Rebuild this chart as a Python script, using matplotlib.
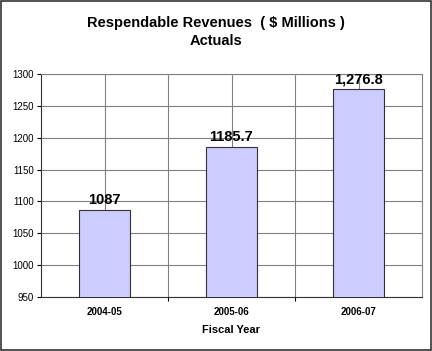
import numpy as np
import matplotlib.pyplot as plt
from matplotlib.patches import Rectangle

plt.rcParams['font.family'] = ['Liberation Sans', 'DejaVu Sans']

years = ["2004-05", "2005-06", "2006-07"]
revenues = [1087, 1185.7, 1276.8]
value_labels = ["1087", "1185.7", "1,276.8"]

fig = plt.figure(figsize=(4.32, 3.51), dpi=100)
ax = fig.add_axes([41/432, 54/351, 381/432, 223/351])

x = np.arange(len(years))
ax.bar(x, revenues, width=0.4, bottom=0, color="#ccccff", edgecolor="#333333", linewidth=0.8, zorder=3)
ax.set_xlim(-0.5, 2.5)
ax.set_ylim(950, 1300)
ax.set_yticks(np.arange(950, 1301, 50))
ax.tick_params(axis='y', labelsize=7, length=3, width=0.8, pad=2)

for v, lab, xi in zip(revenues, value_labels, x):
    ax.text(xi, v + 4, lab, ha='center', va='bottom', fontsize=10.5, fontweight='bold')

# horizontal grid + vertical lines at centers and category borders
ax.grid(axis='y', color='#808080', linewidth=0.8, zorder=0)
for gx in [0, 0.5, 1, 1.5, 2]:
    ax.axvline(gx, color='#808080', linewidth=0.8, zorder=0)

ax.set_xticks([0.5, 1.5])
ax.set_xticklabels([])
ax.tick_params(axis='x', length=3, width=0.8, direction='out')
for xi, yr in zip(x, years):
    ax.text(xi, -0.045, yr, transform=ax.get_xaxis_transform(), ha='center', va='top', fontsize=7, fontweight='bold')
ax.text(1, -0.125, "Fiscal Year", transform=ax.get_xaxis_transform(), ha='center', va='top', fontsize=8, fontweight='bold')

for s in ['top', 'right']:
    ax.spines[s].set_color('#808080')
    ax.spines[s].set_linewidth(0.8)
for s in ['left', 'bottom']:
    ax.spines[s].set_color('#333333')
    ax.spines[s].set_linewidth(0.8)

fig.text(0.5, 1 - 32/351, "Respendable Revenues  ( $ Millions )\nActuals", ha='center', va='center',
         fontsize=10.5, fontweight='bold', linespacing=1.35)

fig.patches.append(Rectangle((0.002, 0.003), 0.995, 0.994, transform=fig.transFigure,
                             fill=False, edgecolor='#333333', linewidth=1.2))

fig.savefig("out.png", dpi=100)
